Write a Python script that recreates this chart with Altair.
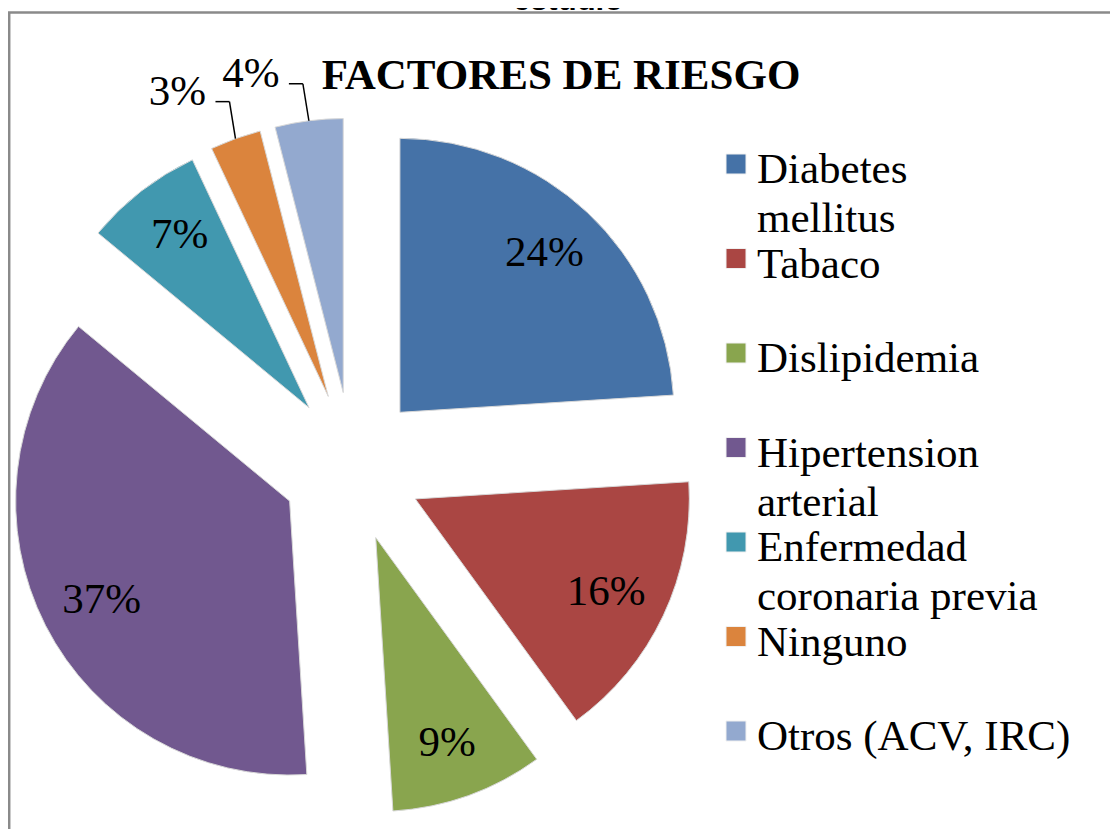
import altair as alt
import numpy as np
import pandas as pd

# ---- data ----
categories = ["Diabetes mellitus", "Tabaco", "Dislipidemia", "Hipertension arterial",
              "Enfermedad coronaria previa", "Ninguno", "Otros (ACV, IRC)"]
legend_labels = ["Diabetes\nmellitus", "Tabaco", "Dislipidemia", "Hipertension\narterial",
                 "Enfermedad\ncoronaria previa", "Ninguno", "Otros (ACV, IRC)"]
values = [24, 16, 9, 37, 7, 3, 4]
colors = ["#4572A7", "#AA4643", "#89A54E", "#71588F", "#4198AF", "#DB843D", "#93A9CF"]
title_text = "FACTORES DE RIESGO"
top_text = "estudio"

# ---- layout / style parameters ----
W, H = 1102, 821
CX, CY = 344, 459        # pie centre (px in plot area)
EXPLODE_X, EXPLODE_Y = 70, 75   # slice explosion distance
R = 274                  # outer radius
LABEL_RX, LABEL_RY = 211, 218   # inside label distance from slice apex
SERIF = "Liberation Serif"

# ---- derived table ----
vals = np.array(values, dtype=float)
end = np.cumsum(vals)
start = end - vals
mid = np.deg2rad((start + end) / 2 * 3.6)
ax = CX + EXPLODE_X * np.sin(mid)
ay = CY - EXPLODE_Y * np.cos(mid)
ox = ax + R * np.sin(mid)
oy = ay - R * np.cos(mid)
inside = vals >= 5
kx = ox - 6
ky = oy - 37
hx = kx - 14
lx = np.where(inside, ax + LABEL_RX * np.sin(mid), hx - 38)
ly = np.where(inside, ay - LABEL_RY * np.cos(mid), ky - 10)

df = pd.DataFrame({
    "cat": categories, "legend": legend_labels, "value": values,
    "t0": start, "t1": end, "ax": ax, "ay": ay, "ox": ox, "oy": oy,
    "kx": kx, "ky": ky, "hx": hx, "lx": lx, "ly": ly,
    "inside": inside, "pct": [f"{v}%" for v in values],
})

xs = alt.Scale(domain=[0, W], range=[0, W], nice=False, zero=False)
ys = alt.Scale(domain=[0, H], range=[0, H], nice=False, zero=False)
cs = alt.Scale(domain=categories, range=colors)

base = alt.Chart(df)

pie = base.mark_arc(outerRadius=R, stroke="#D8D8D8", strokeWidth=1).encode(
    x=alt.X("ax:Q", scale=xs, axis=None),
    y=alt.Y("ay:Q", scale=ys, axis=None),
    theta=alt.Theta("t0:Q", scale=alt.Scale(domain=[0, 100], range=[0, 2 * np.pi])),
    theta2="t1:Q",
    color=alt.Color("cat:N", scale=cs, legend=None),
)

labels = base.mark_text(font=SERIF, fontSize=43, align="center", baseline="middle",
                        color="#000000").encode(
    x=alt.X("lx:Q", scale=xs, axis=None),
    y=alt.Y("ly:Q", scale=ys, axis=None),
    text="pct:N",
)

leader_h = base.transform_filter("!datum.inside").mark_rule(color="#000000", strokeWidth=1.5).encode(
    x=alt.X("hx:Q", scale=xs, axis=None), x2="kx:Q",
    y=alt.Y("ky:Q", scale=ys, axis=None), y2="ky:Q",
)
leader_d = base.transform_filter("!datum.inside").mark_rule(color="#000000", strokeWidth=1.5).encode(
    x=alt.X("kx:Q", scale=xs, axis=None), x2="ox:Q",
    y=alt.Y("ky:Q", scale=ys, axis=None), y2="oy:Q",
)

leg_scale = alt.Scale(type="point", domain=categories, range=[156, 156 + 6 * 94.5], padding=0)
leg_sq = base.mark_square(size=400, opacity=1, stroke="#F0F0F0", strokeWidth=1).encode(
    x=alt.value(728),
    y=alt.Y("cat:N", scale=leg_scale, axis=None),
    color=alt.Color("cat:N", scale=cs, legend=None),
)
leg_txt = base.mark_text(font=SERIF, fontSize=43, align="left", baseline="alphabetic",
                         lineBreak="\n", lineHeight=49, dy=19, color="#000000").encode(
    x=alt.value(749),
    y=alt.Y("cat:N", scale=leg_scale, axis=None),
    text="legend:N",
)

one = alt.Data(values=[{}])
title = alt.Chart(one).mark_text(font=SERIF, fontSize=43, fontWeight="bold", align="center",
                                 baseline="alphabetic", color="#000000").encode(
    x=alt.value(553), y=alt.value(81), text=alt.value(title_text))
top = alt.Chart(one).mark_text(font="Liberation Sans", fontSize=31, fontWeight="bold",
                               align="center", baseline="alphabetic", color="#000000").encode(
    x=alt.value(560), y=alt.value(2), text=alt.value(top_text))
border_top = alt.Chart(one).mark_rule(color="#8A8A8A", strokeWidth=2.5).encode(
    x=alt.value(0), x2=alt.value(W), y=alt.value(4.5), y2=alt.value(4.5))
border_left = alt.Chart(one).mark_rule(color="#8A8A8A", strokeWidth=2.5).encode(
    x=alt.value(1.2), x2=alt.value(1.2), y=alt.value(4.5), y2=alt.value(H))

chart = alt.layer(
    border_top, border_left, top, pie, labels, leader_h, leader_d, leg_sq, leg_txt, title
).resolve_scale(y="independent", x="independent").properties(
    width=W, height=H, padding=0, autosize=alt.AutoSizeParams(type="none"),
    background="#FFFFFF",
).configure_view(stroke=None)

chart.save("out.html", embed_options={"renderer": "svg", "actions": False})
